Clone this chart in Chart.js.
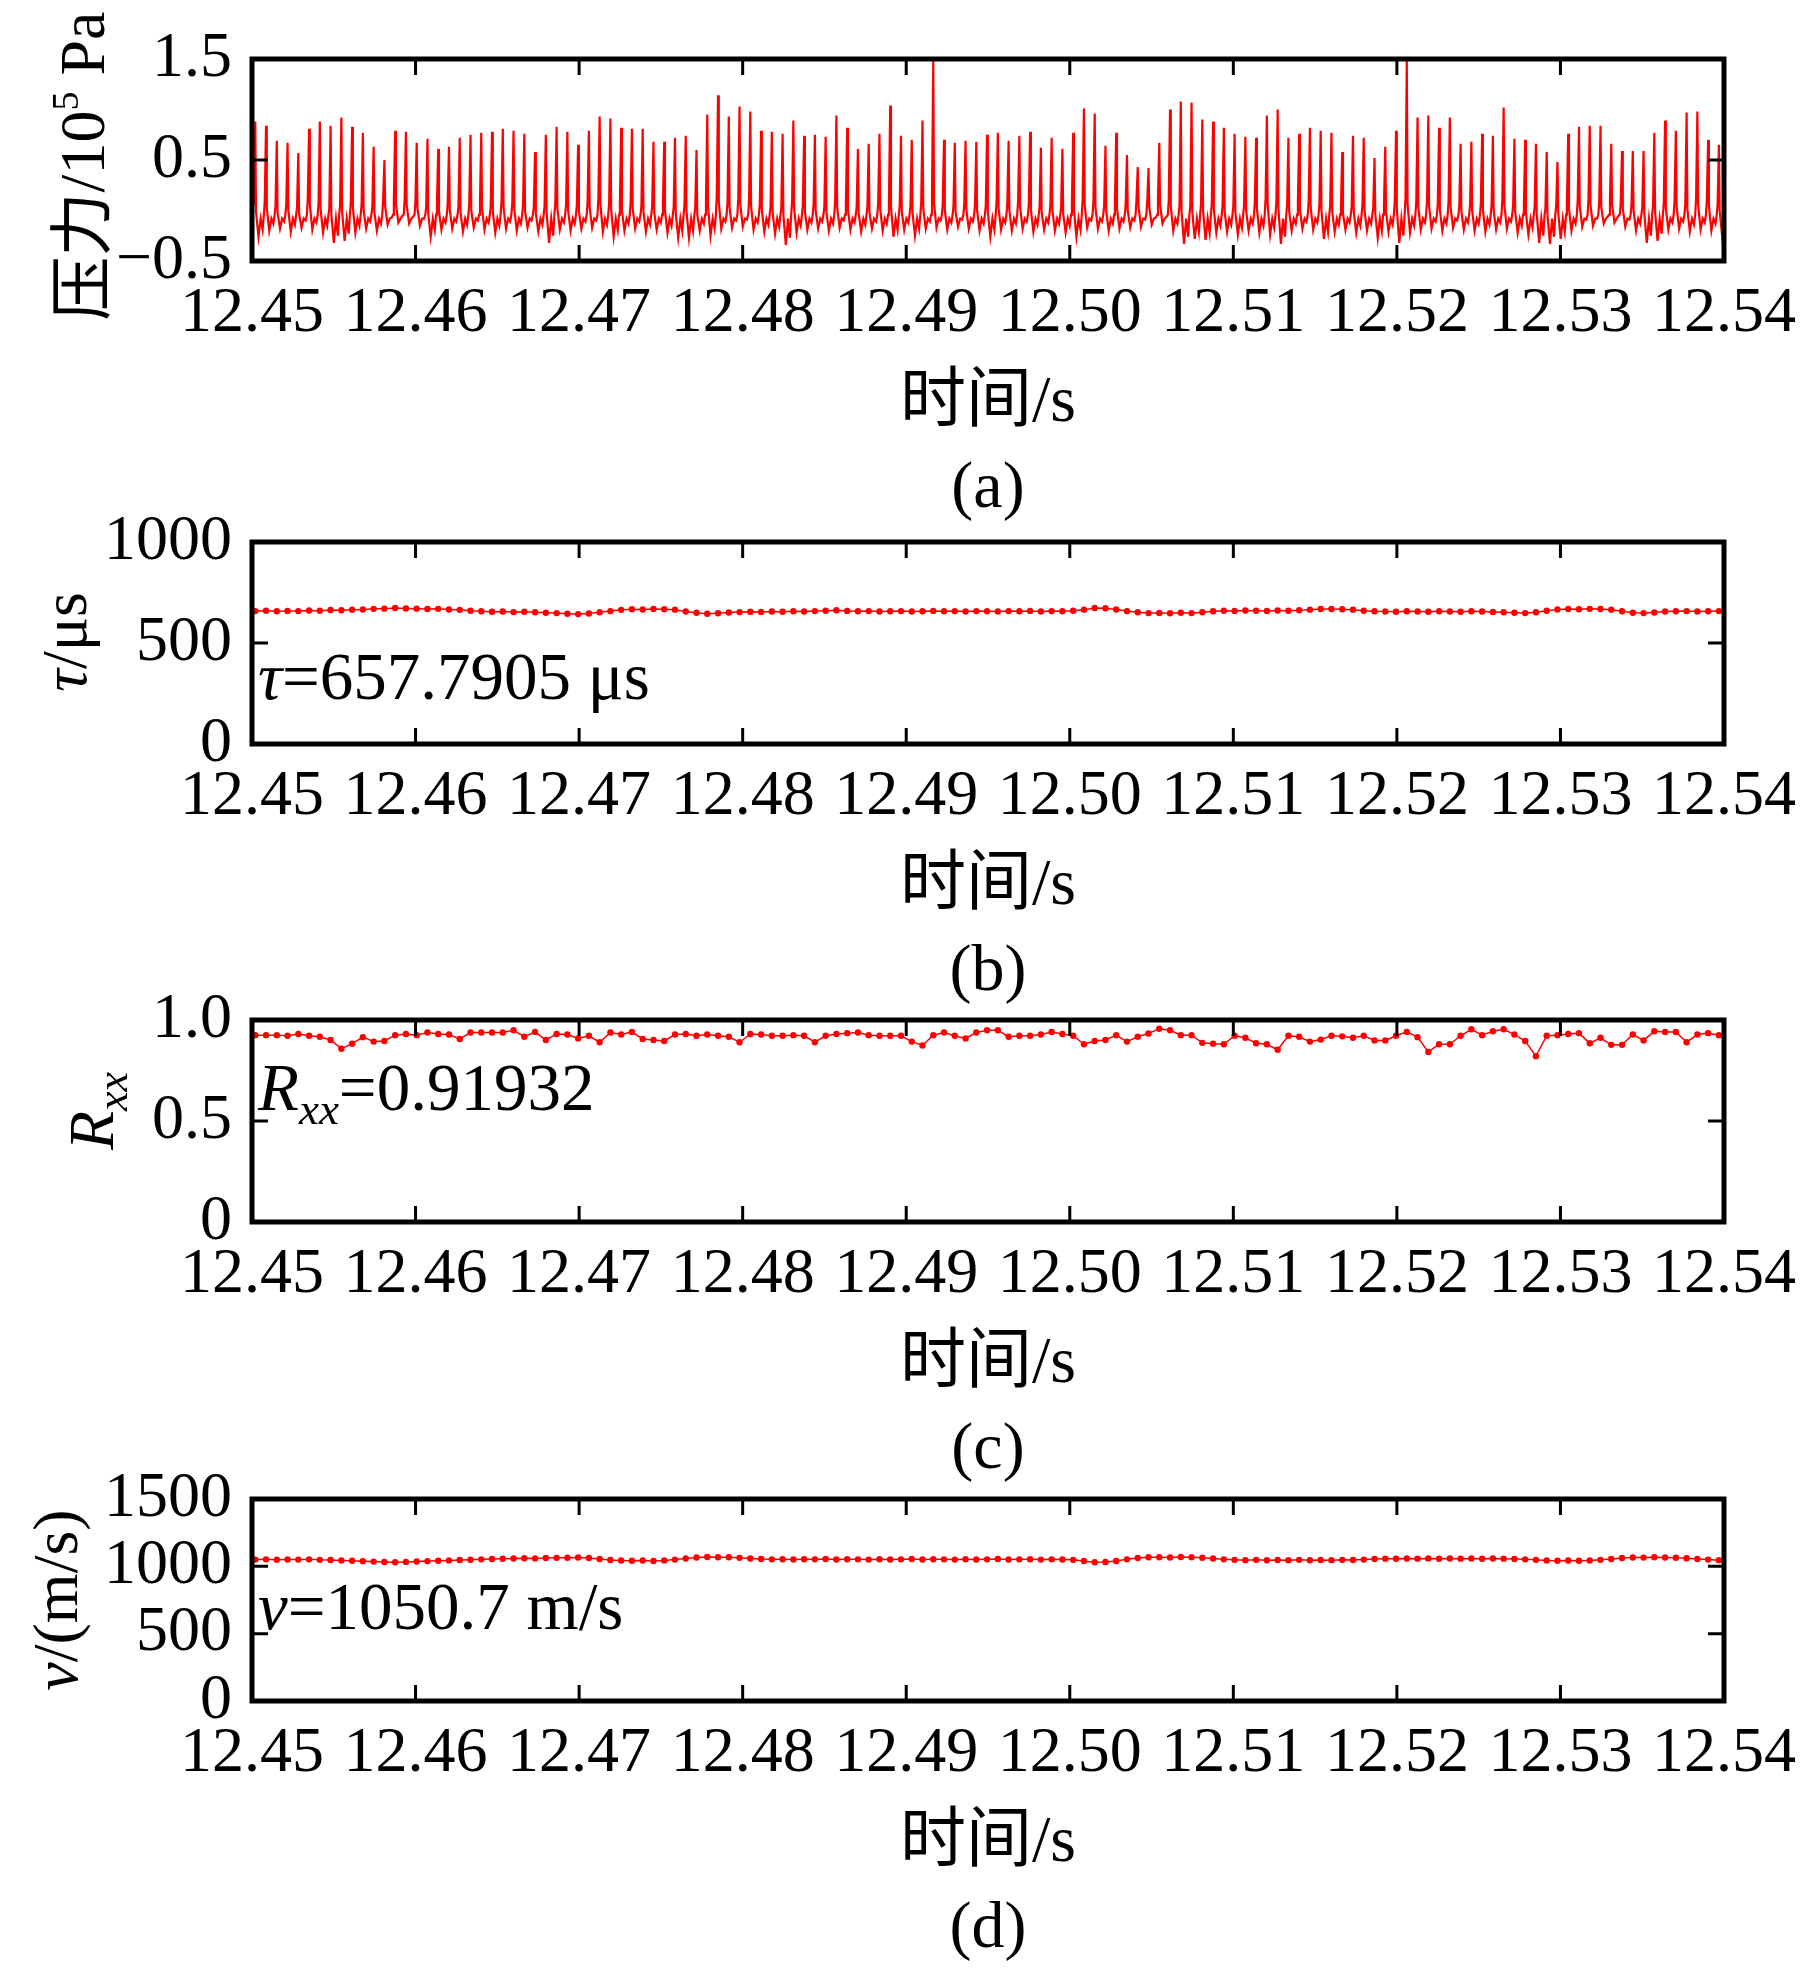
<!DOCTYPE html>
<html>
<head>
<meta charset="utf-8">
<script src="https://cdn.jsdelivr.net/npm/chart.js@4.4.0/dist/chart.umd.min.js"></script>
<style>
html, body { margin: 0; padding: 0; background: #fff; }
#wrap { position: relative; width: 1819px; height: 1971px; overflow: hidden; background: #fff; }
canvas { position: absolute; left: 0; }
</style>
</head>
<body>
<div id="wrap">
  <canvas id="chartA" width="1819" height="530" style="top:0px"></canvas>
  <canvas id="chartB" width="1819" height="530" style="top:483px"></canvas>
  <canvas id="chartC" width="1819" height="530" style="top:961px"></canvas>
  <canvas id="chartD" width="1819" height="530" style="top:1440px"></canvas>
</div>
<script>
// ---- data ----
const timeTicks = [12.45, 12.46, 12.47, 12.48, 12.49, 12.50, 12.51, 12.52, 12.53, 12.54];
const timeTickLabels = ['12.45', '12.46', '12.47', '12.48', '12.49', '12.50', '12.51', '12.52', '12.53', '12.54'];

// one spike / one estimate per cycle, tau ~ 0.658 ms
const cycleStart = 12.4502;
const cyclePeriod = 0.000658;

// (a) pressure, 10^5 Pa
const pressureTicks = [-0.5, 0.5, 1.5];
const pressureTickLabels = ['\u22120.5', '0.5', '1.5'];
const spikePeak = [
  0.88,0.84,0.69,0.67,0.57,0.81,0.88,0.84,0.92,0.83,0.77,0.63,0.50,0.79,0.78,0.67,0.71,0.61,0.63,0.72,0.75,0.77,0.78,0.81,0.79,0.76,0.58,0.75,0.83,0.78,0.65,0.79,0.93,0.91,
  0.82,0.81,0.81,0.68,0.68,0.72,0.74,0.60,0.95,1.14,0.93,1.03,0.98,0.79,0.78,0.76,0.89,0.74,0.75,0.73,0.94,0.82,0.61,0.66,0.76,1.04,0.74,0.70,0.89,1.49,0.70,0.67,0.69,0.68,
  0.75,0.77,0.69,0.74,0.78,0.62,0.72,0.61,0.77,1.01,0.96,0.64,0.77,0.55,0.43,0.42,0.67,1.00,1.08,1.07,0.90,0.88,0.82,0.76,0.73,0.72,0.94,1.00,0.72,0.76,0.82,0.79,0.77,0.58,
  0.74,0.72,0.52,0.63,0.79,1.49,0.92,0.94,0.82,0.92,0.66,0.68,0.76,0.74,1.02,0.71,0.70,0.66,0.58,0.48,0.76,0.83,0.84,0.84,0.66,0.59,0.59,0.59,0.77,0.89,0.79,0.97,0.98,0.70,0.65
];
const spikeTrough = [
  -0.26,-0.20,-0.18,-0.21,-0.17,-0.19,-0.22,-0.32,-0.30,-0.22,-0.18,-0.20,-0.14,-0.12,-0.13,-0.15,-0.26,-0.19,-0.18,-0.21,-0.17,-0.19,-0.22,-0.18,-0.20,-0.17,-0.21,-0.32,-0.19,-0.20,-0.18,-0.17,-0.21,-0.26,
  -0.20,-0.18,-0.21,-0.19,-0.22,-0.27,-0.27,-0.20,-0.25,-0.18,-0.17,-0.16,-0.19,-0.21,-0.23,-0.34,-0.22,-0.19,-0.18,-0.20,-0.17,-0.19,-0.21,-0.18,-0.20,-0.26,-0.19,-0.25,-0.18,-0.17,-0.19,-0.16,-0.18,-0.20,
  -0.26,-0.19,-0.20,-0.18,-0.21,-0.19,-0.20,-0.22,-0.26,-0.17,-0.18,-0.20,-0.18,-0.17,-0.16,-0.14,-0.13,-0.20,-0.33,-0.28,-0.29,-0.22,-0.21,-0.24,-0.20,-0.22,-0.24,-0.33,-0.20,-0.18,-0.19,-0.28,-0.21,-0.19,
  -0.22,-0.20,-0.27,-0.21,-0.32,-0.22,-0.19,-0.18,-0.20,-0.17,-0.19,-0.20,-0.21,-0.19,-0.18,-0.22,-0.24,-0.32,-0.33,-0.28,-0.20,-0.16,-0.15,-0.13,-0.12,-0.16,-0.20,-0.32,-0.30,-0.19,-0.18,-0.21,-0.19,-0.20,-0.25
];
const spikeBump = [
  0.05,0.08,0.04,0.06,0.03,0.12,0.07,0.02,0.05,0.09,0.06,0.04,0.10,0.12,0.11,0.08,0.03,0.05,0.07,0.04,0.06,0.08,0.05,0.09,0.07,0.05,0.03,0.04,0.08,0.06,0.05,0.09,0.12,0.07,
  0.06,0.08,0.05,0.04,0.06,0.03,0.05,0.02,0.10,0.14,0.09,0.12,0.10,0.06,0.04,0.02,0.08,0.05,0.06,0.04,0.09,0.07,0.03,0.04,0.07,0.10,0.05,0.04,0.08,0.13,0.06,0.05,0.07,0.06,
  0.05,0.08,0.06,0.09,0.07,0.04,0.06,0.03,0.07,0.11,0.09,0.05,0.08,0.06,0.10,0.09,0.12,0.10,0.05,0.04,0.06,0.07,0.05,0.04,0.06,0.08,0.12,0.08,0.05,0.07,0.09,0.06,0.05,0.03,
  0.05,0.06,0.03,0.05,0.08,0.12,0.09,0.10,0.07,0.09,0.05,0.06,0.07,0.06,0.11,0.05,0.04,0.03,0.02,0.04,0.08,0.10,0.11,0.09,0.12,0.08,0.06,0.03,0.05,0.08,0.10,0.07,0.12,0.11,0.06
];

// (b) delay tau, us
const tauTicks = [0, 500, 1000];
const tauTickLabels = ['0', '500', '1000'];
const tauValues = [
  658,660,657,659,658,661,660,663,662,665,
  666,669,670,673,671,670,668,669,666,664,
  660,657,655,656,653,655,652,650,648,645,
  643,646,652,658,664,667,666,668,667,665,
  656,650,645,647,651,653,655,654,656,655,
  657,656,658,660,662,659,657,658,656,657,
  658,656,657,659,657,658,656,658,657,656,
  658,657,659,656,658,657,660,665,673,672,
  666,658,652,648,649,647,650,648,652,657,
  660,659,661,660,659,661,660,662,665,668,
  668,667,665,660,657,656,655,657,656,655,
  657,656,655,657,656,654,652,650,648,652,
  660,666,668,667,669,668,665,657,650,648,
  651,656,657,658,656,657,658
];

// (c) correlation coefficient Rxx
const rxxTicks = [0, 0.5, 1.0];
const rxxTickLabels = ['0', '0.5', '1.0'];
const rxxValues = [
  0.925,0.925,0.925,0.922,0.931,0.922,0.917,0.901,0.858,0.883,
  0.915,0.893,0.896,0.925,0.931,0.925,0.938,0.931,0.928,0.906,
  0.938,0.938,0.938,0.938,0.949,0.917,0.941,0.901,0.931,0.928,
  0.909,0.922,0.890,0.938,0.928,0.941,0.906,0.901,0.896,
  0.928,0.931,0.922,0.928,0.922,0.917,0.890,0.931,0.928,0.922,
  0.922,0.925,0.922,0.890,0.922,0.931,0.935,0.938,0.925,0.922,
  0.922,0.922,0.893,0.874,0.925,0.938,0.922,0.909,0.938,
  0.949,0.949,0.917,0.922,0.922,0.928,0.941,0.931,0.922,0.880,
  0.896,0.901,0.925,0.893,0.917,0.933,0.957,0.949,0.925,0.925,
  0.887,0.883,0.880,0.922,0.912,0.885,0.880,0.853,0.922,0.917,
  0.893,0.903,0.922,0.919,0.912,0.922,0.899,0.899,0.922,0.941,
  0.915,0.842,0.880,0.880,0.922,0.954,0.925,0.944,0.954,0.928,
  0.896,0.821,0.922,0.925,0.931,0.935,0.885,0.912,0.877,0.877,
  0.928,0.899,0.944,0.941,0.941,0.890,0.928,0.935,0.925
];

// (d) velocity, m/s
const speedTicks = [0, 500, 1000, 1500];
const speedTickLabels = ['0', '500', '1000', '1500'];
const speedValues = [
  1050,1052,1049,1051,1050,1052,1048,1047,1044,1041,
  1038,1035,1032,1030,1033,1036,1039,1042,1044,1047,
  1049,1052,1054,1056,1058,1060,1059,1062,1063,1064,
  1066,1062,1055,1047,1043,1041,1043,1040,1044,1050,
  1058,1066,1069,1068,1067,1063,1058,1054,1052,1053,
  1051,1053,1052,1054,1051,1053,1052,1050,1053,1051,
  1052,1054,1051,1053,1052,1050,1053,1051,1052,1054,
  1051,1052,1053,1050,1052,1051,1048,1040,1030,1032,
  1040,1052,1062,1067,1068,1066,1069,1067,1064,1058,
  1052,1048,1046,1048,1045,1047,1046,1048,1045,1047,
  1046,1048,1047,1050,1054,1057,1056,1058,1057,1059,
  1056,1058,1057,1059,1056,1058,1057,1055,1052,1048,
  1044,1042,1043,1041,1044,1048,1055,1062,1066,1065,
  1067,1066,1064,1060,1055,1050,1046
];

// ---- build series ----
const pressurePoints = [];
spikePeak.forEach((p, i) => {
  const t = cycleStart + i * cyclePeriod;
  const b = spikeBump[i] ?? 0.05;
  const tr = spikeTrough[i] ?? -0.2;
  pressurePoints.push({x: t - 0.12 * cyclePeriod, y: b});
  pressurePoints.push({x: t, y: p});
  pressurePoints.push({x: t + 0.07 * cyclePeriod, y: b - 0.06});
  pressurePoints.push({x: t + 0.30 * cyclePeriod, y: tr});
  pressurePoints.push({x: t + 0.50 * cyclePeriod, y: -0.08});
  pressurePoints.push({x: t + 0.68 * cyclePeriod, y: tr + 0.07});
  pressurePoints.push({x: t + 0.80 * cyclePeriod, y: -0.04});
});

function perCycle(values) {
  return values.map((v, i) => ({x: cycleStart + i * cyclePeriod, y: v}));
}

// ---- drawing helpers ----
const FAMILY = '"Liberation Serif", "Noto Sans CJK SC", serif';
const FS = 64;
const NOTE = 67;

Chart.defaults.color = '#000';
Chart.defaults.font.family = FAMILY;

function runFont(r) {
  return (r.italic ? 'italic ' : '') + (r.size || FS) + 'px ' + FAMILY;
}

function drawRich(ctx, item) {
  ctx.save();
  ctx.fillStyle = '#000';
  ctx.textBaseline = 'alphabetic';
  ctx.textAlign = 'left';
  let total = 0;
  item.runs.forEach(r => { ctx.font = runFont(r); total += ctx.measureText(r.t).width; });
  ctx.translate(item.x, item.y);
  if (item.rotate) ctx.rotate(-Math.PI / 2);
  let cx = item.align === 'center' ? -total / 2 : 0;
  item.runs.forEach(r => {
    ctx.font = runFont(r);
    ctx.fillText(r.t, cx, r.dy || 0);
    cx += ctx.measureText(r.t).width;
  });
  ctx.restore();
}

// box frame + inward tick marks + free text
const framePlugin = {
  id: 'frame',
  afterDraw(chart, args, opts) {
    const {ctx, chartArea: a} = chart;
    const x = chart.scales.x, y = chart.scales.y;
    ctx.save();
    ctx.strokeStyle = '#000';
    ctx.lineWidth = 3;
    ctx.beginPath();
    x.ticks.forEach(t => {
      const px = x.getPixelForValue(t.value);
      ctx.moveTo(px, a.top); ctx.lineTo(px, a.top + 16);
      ctx.moveTo(px, a.bottom); ctx.lineTo(px, a.bottom - 16);
    });
    y.ticks.forEach(t => {
      const py = y.getPixelForValue(t.value);
      ctx.moveTo(a.left, py); ctx.lineTo(a.left + 16, py);
      ctx.moveTo(a.right, py); ctx.lineTo(a.right - 16, py);
    });
    ctx.stroke();
    ctx.lineWidth = 5;
    ctx.strokeRect(a.left, a.top, a.right - a.left, a.bottom - a.top);
    ctx.restore();
    (opts.texts || []).forEach(item => drawRich(ctx, item));
  }
};

function makePanel(id, dataset, yMin, yMax, yTicks, yLabels, caption, texts) {
  return new Chart(document.getElementById(id), {
    type: 'line',
    data: {datasets: [dataset]},
    options: {
      responsive: false,
      animation: false,
      devicePixelRatio: 1,
      layout: {padding: {top: 59, right: 95, left: 0, bottom: 0}},
      plugins: {
        legend: {display: false},
        tooltip: {enabled: false},
        frame: {texts: texts}
      },
      scales: {
        x: {
          type: 'linear',
          min: 12.45,
          max: 12.54,
          grid: {display: false},
          border: {display: false},
          afterBuildTicks: s => { s.ticks = timeTicks.map(v => ({value: v})); },
          afterFit: s => { s.height = 269; },
          ticks: {
            autoSkip: false, maxRotation: 0, minRotation: 0, padding: 7,
            font: {size: FS, lineHeight: 1.2},
            callback: (v, i) => timeTickLabels[i]
          },
          title: {
            display: true,
            text: ['时间/s', caption],
            font: {size: 66, lineHeight: 86 / 66},
            padding: {top: 0, bottom: -3}
          }
        },
        y: {
          min: yMin,
          max: yMax,
          grid: {display: false},
          border: {display: false},
          afterBuildTicks: s => { s.ticks = yTicks.map(v => ({value: v})); },
          afterFit: s => { s.width = 252; },
          ticks: {
            autoSkip: false,
            padding: 12,
            font: {size: FS, lineHeight: 1.2},
            callback: (v, i) => yLabels[i]
          }
        }
      }
    },
    plugins: [framePlugin]
  });
}

const dotStyle = {
  borderColor: '#ff0000',
  backgroundColor: '#ff0000',
  borderWidth: 1.5,
  pointRadius: 3.2,
  pointBorderWidth: 0,
  pointBackgroundColor: '#ff0000',
  tension: 0
};

makePanel('chartA', {
  data: pressurePoints,
  borderColor: '#ff0000',
  borderWidth: 2.2,
  pointRadius: 0,
  tension: 0
}, -0.5, 1.5, pressureTicks, pressureTickLabels, '(a)', [
  {x: 104, y: 166, rotate: true, align: 'center',
   runs: [{t: '压力/10'}, {t: '5', size: 38, dy: -26}, {t: ' Pa'}]}
]);

makePanel('chartB', Object.assign({data: perCycle(tauValues)}, dotStyle),
  0, 1000, tauTicks, tauTickLabels, '(b)', [
  {x: 86, y: 159, rotate: true, align: 'center',
   runs: [{t: 'τ', italic: true}, {t: '/μs'}]},
  {x: 258, y: 216, runs: [{t: 'τ', italic: true, size: NOTE}, {t: '=657.7905 μs', size: NOTE}]}
]);

makePanel('chartC', Object.assign({data: perCycle(rxxValues)}, dotStyle),
  0, 1.0, rxxTicks, rxxTickLabels, '(c)', [
  {x: 113, y: 150, rotate: true, align: 'center',
   runs: [{t: 'R', italic: true}, {t: 'xx', italic: true, size: 44, dy: 14}]},
  {x: 258, y: 149, runs: [{t: 'R', italic: true, size: NOTE}, {t: 'xx', italic: true, size: 45, dy: 14}, {t: '=0.91932', size: NOTE}]}
]);

makePanel('chartD', Object.assign({data: perCycle(speedValues)}, dotStyle),
  0, 1500, speedTicks, speedTickLabels, '(d)', [
  {x: 77, y: 160, rotate: true, align: 'center',
   runs: [{t: 'v', italic: true}, {t: '/(m/s)'}]},
  {x: 258, y: 189, runs: [{t: 'v', italic: true, size: NOTE}, {t: '=1050.7 m/s', size: NOTE}]}
]);
</script>
</body>
</html>
